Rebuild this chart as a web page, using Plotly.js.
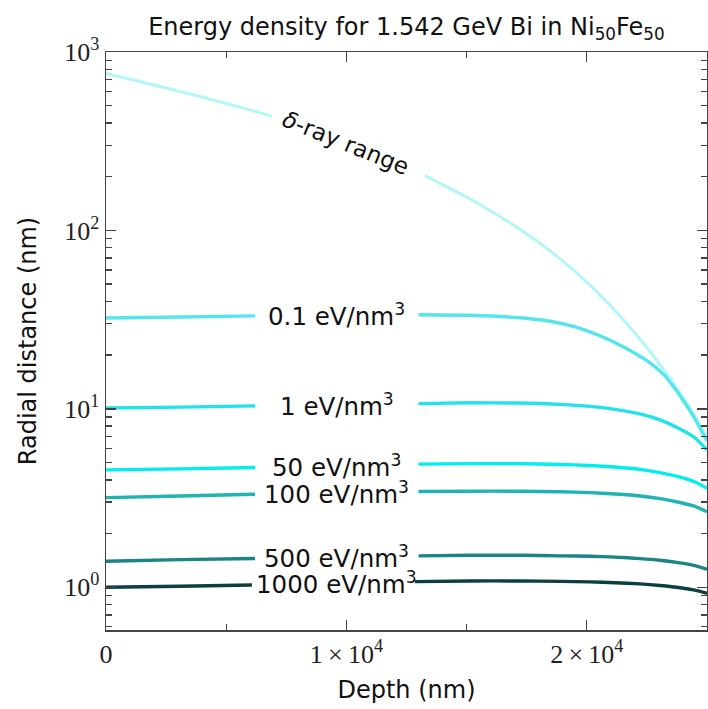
<!DOCTYPE html>
<html><head><meta charset="utf-8">
<script src="https://cdn.plot.ly/plotly-3.0.1.min.js"></script>
<style>html,body{margin:0;padding:0;background:#fff}</style>
</head><body><div id="chart" style="width:708px;height:709px"></div>
<script>
// ---- data (depth in nm, radial distance in nm); null = gap where the label sits ----
const deltaDepth = [0, 1830, 3910, 5570, 6900, 10000, 13270, 15350, 17430, 18470, 19510, 20550, 21590, 22630, 23670, 24290, 25000];
const deltaR     = [757, 661, 562, 491, 437, null, 203, 144.9, 97.1, 76.9, 58.9, 43.45, 30.85, 20.95, 13.5, 10.1, 6.93];

const e01Depth = [0, 3080, 6200, 9600, 13000, 15140, 17220, 18470, 19510, 20550, 21590, 22630, 23250, 23880, 24500, 25000];
const e01R     = [32.3, 32.7, 33.2, null, 33.7, 33.45, 32.4, 30.95, 28.8, 25.7, 21.99, 18.1, 15.3, 11.83, 8.79, 6.61];

// shared depth grid for the contour lines below 0.1 eV/nm^3
const gridDepth  = [0, 3080, 6200, 9600, 13000, 15140, 17220, 18890, 20130, 21170, 22210, 23050, 23880, 24500, 25000];
const e1R    = [10.1, 10.23, 10.39, null, 10.7, 10.81, 10.78, 10.6, 10.33, 9.94, 9.38, 8.68, 7.72, 6.88, 5.89];
const e50R   = [4.55, 4.61, 4.69, null, 4.90, 4.93, 4.93, 4.88, 4.815, 4.72, 4.58, 4.39, 4.14, 3.89, 3.59];
const e100R  = [3.18, 3.25, 3.32, null, 3.44, 3.455, 3.455, 3.43, 3.39, 3.33, 3.25, 3.14, 2.985, 2.84, 2.65];
const e500R  = [1.40, 1.428, 1.45, null, 1.50, 1.512, 1.512, 1.50, 1.492, 1.475, 1.448, 1.416, 1.369, 1.322, 1.26];
const e1000Depth = [0, 3080, 6070, 9600, 12850, 15140, 17220, 18890, 20130, 21170, 22210, 23050, 23880, 24500, 25000];
const e1000R = [1.00, 1.014, 1.03, null, 1.075, 1.085, 1.085, 1.079, 1.072, 1.061, 1.045, 1.023, 0.994, 0.963, 0.925];

const seriesNames = ["δ-ray range", "0.1 eV/nm³", "1 eV/nm³", "50 eV/nm³", "100 eV/nm³", "500 eV/nm³", "1000 eV/nm³"];
const seriesColors = ["#b2f6f7", "#55e5ee", "#22e2ec", "#00eeee", "#1fb3b4", "#1b8586", "#0c3f40"];

// labels
const labelText = ["<i>δ</i>-ray range", "0.1 eV/nm<sup>3</sup>", "1 eV/nm<sup>3</sup>", "50 eV/nm<sup>3</sup>",
                   "100 eV/nm<sup>3</sup>", "500 eV/nm<sup>3</sup>", "1000 eV/nm<sup>3</sup>"];
const labelDepth = [10000, 9600, 9600, 9600, 9600, 9600, 9600];
const labelR     = [310, 33.5, 10.55, 4.8, 3.38, 1.475, 1.05];
const labelAngle = [22, 0, 0, 0, 0, 0, 0];

// ticks
const xTickVals = [0, 10000, 20000];
const xTickText = ["0", "1\u2009×\u200910<sup>4</sup>", "2\u2009×\u200910<sup>4</sup>"];
const xMinor = [5000, 15000];
const yTickVals = [1, 10, 100, 1000];
const yTickText = ["10<sup>0</sup>", "10<sup>1</sup>", "10<sup>2</sup>", "10<sup>3</sup>"];
const yMinor = [0.6,0.7,0.8,0.9,2,3,4,5,6,7,8,9,20,30,40,50,60,70,80,90,200,300,400,500,600,700,800,900];

const xs = [deltaDepth, e01Depth, gridDepth, gridDepth, gridDepth, gridDepth, e1000Depth];
const ys = [deltaR, e01R, e1R, e50R, e100R, e500R, e1000R];
const widths = [3, 3.4, 3.4, 3.4, 3.4, 3.4, 3.4];

const traces = xs.map((x, i) => ({
  x: x, y: ys[i], name: seriesNames[i], type: 'scatter', mode: 'lines',
  line: {color: seriesColors[i], width: widths[i], shape: 'spline', smoothing: 0.6},
  connectgaps: false, showlegend: false, hoverinfo: 'skip'
}));

const annotations = labelText.map((t, i) => ({
  x: labelDepth[i], y: Math.log10(labelR[i]), xref: 'x', yref: 'y',
  text: t, showarrow: false, textangle: labelAngle[i],
  xanchor: 'center', yanchor: 'middle',
  font: {family: 'DejaVu Sans', size: i === 0 ? 23 : 24.5, color: '#111'}
}));

const axisCommon = {
  showline: true, linecolor: '#444', linewidth: 1.5, mirror: 'allticks',
  ticks: 'inside', ticklen: 10, tickwidth: 1.3, tickcolor: '#444',
  showgrid: false, zeroline: false,
  tickfont: {family: 'Liberation Serif', size: 26, color: '#222'}
};

const layout = {
  width: 708, height: 709,
  paper_bgcolor: '#fff', plot_bgcolor: '#fff',
  margin: {l: 106, r: 1, t: 52, b: 79},
  title: {text: 'Energy density for 1.542 GeV Bi in Ni<sub>50</sub>Fe<sub>50</sub>',
          x: 0.574, xanchor: 'center', y: 0.962, yanchor: 'middle',
          font: {family: 'DejaVu Sans', size: 24, color: '#111'}},
  xaxis: Object.assign({}, axisCommon, {
    range: [0, 25000], tickmode: 'array', tickvals: xTickVals, ticktext: xTickText,
    minor: {tickmode: 'array', tickvals: xMinor, ticks: 'inside', ticklen: 6, tickcolor: '#444', tickwidth: 1.3},
    title: {text: 'Depth (nm)', standoff: 13, font: {family: 'DejaVu Sans', size: 24, color: '#111'}}
  }),
  yaxis: Object.assign({}, axisCommon, {
    type: 'log', range: [-0.2395, 3], tickmode: 'array', tickvals: yTickVals, ticktext: yTickText,
    minor: {tickmode: 'array', tickvals: yMinor, ticks: 'inside', ticklen: 6, tickcolor: '#444', tickwidth: 1.3},
    title: {text: 'Radial distance (nm)', standoff: 21, font: {family: 'DejaVu Sans', size: 24, color: '#111'}}
  }),
  annotations: annotations
};

Plotly.newPlot('chart', traces, layout, {displayModeBar: false, staticPlot: true});
</script></body></html>
